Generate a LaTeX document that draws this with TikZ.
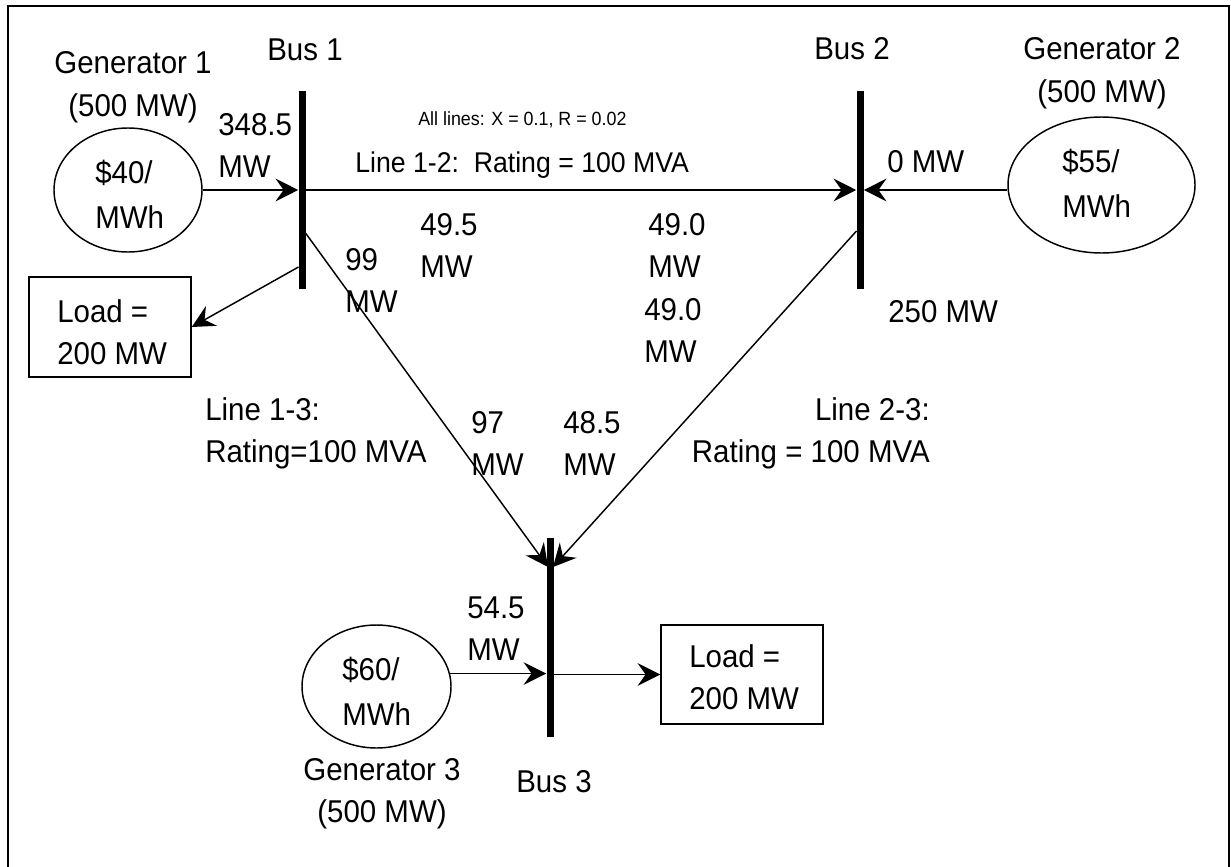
\documentclass[tikz,border=0pt]{standalone}
\usepackage{graphicx}
\usepackage{fontspec}
\setmainfont{Liberation Sans}
\usetikzlibrary{arrows.meta,shapes.geometric}
\newcommand{\txt}[2][l]{\scalebox{1}[1.07]{\begin{tabular}[t]{@{}#1@{}}#2\end{tabular}}}
\begin{document}
\begin{tikzpicture}[x=0.75pt,y=-0.75pt,
  lbl/.style={inner sep=0pt, anchor=base west, font=\fontsize{22.1}{30.1}\selectfont},
  clbl/.style={lbl, anchor=base},
  rlbl/.style={lbl, anchor=base east},
  gen/.style={ellipse, draw, line width=1.1pt, inner sep=0pt},
  loadbox/.style={rectangle, draw, line width=1.1pt, inner sep=0pt},
  busbar/.style={rectangle, fill=black, inner sep=0pt, minimum width=5.25pt},
  arr/.style={line width=1.1pt, -{Stealth[length=17pt,width=17pt,inset=6pt]}},
  frame/.style={line width=1.5pt}]
\useasboundingbox (0,0) rectangle (1231,867);
\fill[white] (0,0) rectangle (1231,867);
\draw[frame] (8,880) -- (8,6) -- (1229,6) -- (1229,880);

% buses
\node[busbar, minimum height=148.5pt] (bus1) at (302,190) {};
\node[busbar, minimum height=148.5pt] (bus2) at (860,190) {};
\node[busbar, minimum height=149.25pt] (bus3) at (550,637.5) {};

% generators and loads
\node[gen, minimum width=111pt, minimum height=93pt] (gen1) at (128,190) {};
\node[gen, minimum width=140.25pt, minimum height=102pt] (gen2) at (1101.5,185) {};
\node[gen, minimum width=111.75pt, minimum height=92.25pt] (gen3) at (376.5,686.5) {};
\node[loadbox, minimum width=121.5pt, minimum height=75pt] (load1) at (110,327) {};
\node[loadbox, minimum width=121.5pt, minimum height=74.25pt] (load3) at (742,674.5) {};

% connection points on buses
\coordinate (b1l) at (298.5,267);
\coordinate (b1d) at (305.5,233);
\coordinate (b2d) at (856.5,231);
\coordinate (b3l) at (548,567);
\coordinate (b3r) at (553,567);

% connectors
\draw[arr] (gen1.east) -- (bus1.west);
\draw[arr] (bus1.east) -- (bus2.west);
\draw[arr] (gen2.west |- bus2.east) -- (bus2.east);
\draw[arr] (b1l) -- (load1.east);
\draw[arr] (b1d) -- (b3l);
\draw[arr] (b2d) -- (b3r);
\draw[arr] (gen3.10) -- (gen3.10 -| bus3.west);
\draw[arr] (bus3.east |- load3.west) -- (load3.west);

% texts
\node[clbl] (tbus1) at (305,61) {\txt{Bus 1}};
\node[clbl] (tbus2) at (852,60) {\txt{Bus 2}};
\node[clbl] (tbus3) at (554,792) {\txt{Bus 3}};
\node[clbl] (tgen1) at (133,74) {\txt[c]{Generator 1\\(500 MW)}};
\node[clbl] (tgen2) at (1102,60) {\txt[c]{Generator 2\\(500 MW)}};
\node[clbl] (tgen3) at (382,780) {\txt[c]{Generator 3\\(500 MW)}};
\node[lbl] (pgen1) at (95,183) {\txt{\$40/\\[1.5pt]MWh}};
\node[lbl] (pgen2) at (1062,172) {\txt{\$55/\\[1.5pt]MWh}};
\node[lbl] (pgen3) at (342,680) {\txt{\$60/\\[1.5pt]MWh}};
\node[lbl] (f1) at (218,135) {\txt{348.5\\MW}};
\node[lbl, font=\fontsize{13.4}{18}\selectfont] (allx) at (418,125) {\txt{All lines: X = 0.1, R = 0.02}};
\node[lbl, font=\fontsize{20}{27}\selectfont] (l12) at (355,172) {\txt{Line 1-2:\ \ Rating = 100 MVA}};
\node[lbl] (f2) at (887,172) {\txt{0 MW}};
\node[lbl] (f12a) at (420,235) {\txt{49.5\\MW}};
\node[lbl] (f12b) at (648,235) {\txt{49.0\\MW}};
\node[lbl] (f13a) at (345,270) {\txt{99\\MW}};
\node[lbl] (f23a) at (644,320) {\txt{49.0\\MW}};
\node[lbl] (d2) at (888,322) {\txt{250 MW}};
\node[lbl] (tload1) at (57,322) {\txt{Load =\\200 MW}};
\node[lbl] (l13) at (205,420) {\txt{Line 1-3:\\Rating=100 MVA}};
\node[rlbl] (l23) at (930,420) {\txt[r]{Line 2-3:\\Rating = 100 MVA}};
\node[lbl] (f13b) at (471,433) {\txt{97\\MW}};
\node[lbl] (f23b) at (563,433) {\txt{48.5\\MW}};
\node[lbl] (f3) at (467,618) {\txt{54.5\\MW}};
\node[lbl] (tload3) at (689,667) {\txt{Load =\\200 MW}};
\end{tikzpicture}
\end{document}
